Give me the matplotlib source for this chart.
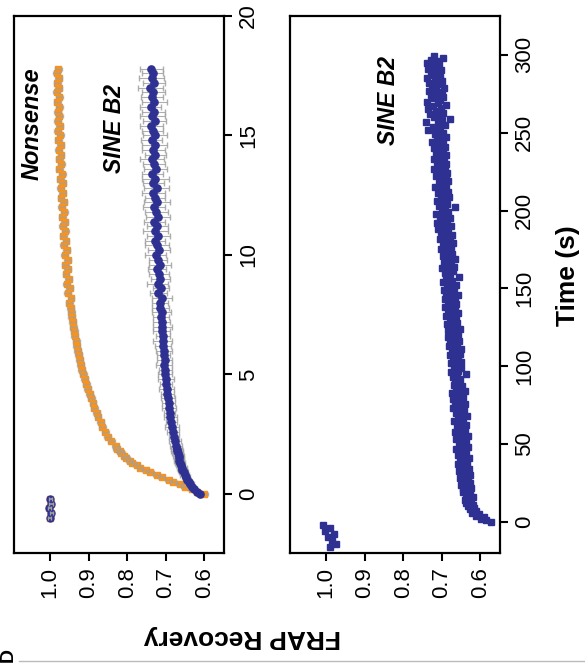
import matplotlib
matplotlib.use("Agg")
import matplotlib.pyplot as plt
from matplotlib.lines import Line2D

plt.rcParams['font.family'] = ['Liberation Sans', 'DejaVu Sans']

# ---------------- data: short time course (0-18 s) ----------------
pre_time_short = [-1.0, -0.8, -0.6, -0.4, -0.2]
pre_nonsense = [1.000, 0.998, 1.002, 0.999, 1.001]
pre_sine_short = [1.001, 0.997, 1.003, 0.998, 1.000]

time_short = [0.0, 0.1, 0.2, 0.3, 0.4, 0.5, 0.6, 0.7, 0.8, 0.9,
              1.0, 1.1, 1.2, 1.3, 1.4, 1.5, 1.6, 1.7, 1.8, 1.9, 2.0,
              2.2, 2.4, 2.6, 2.8, 3.0, 3.2, 3.4, 3.6, 3.8, 4.0,
              4.2, 4.4, 4.6, 4.8, 5.0, 5.2, 5.4, 5.6, 5.8, 6.0,
              6.2, 6.4, 6.6, 6.8, 7.0, 7.2, 7.4, 7.6, 7.8,
              8.0, 8.2, 8.4, 8.6, 8.8, 9.0, 9.2, 9.4, 9.6, 9.8,
              10.0, 10.2, 10.4, 10.6, 10.8, 11.0, 11.2, 11.4, 11.6, 11.8,
              12.0, 12.2, 12.4, 12.6, 12.8, 13.0, 13.2, 13.4, 13.6, 13.8,
              14.0, 14.2, 14.4, 14.6, 14.8, 15.0, 15.2, 15.4, 15.6, 15.8,
              16.0, 16.2, 16.4, 16.6, 16.8, 17.0, 17.2, 17.4, 17.6, 17.8]

nonsense = [0.600, 0.619, 0.633, 0.651, 0.664, 0.681, 0.693, 0.710, 0.723, 0.740,
            0.752, 0.767, 0.776, 0.787, 0.794, 0.803, 0.808, 0.816, 0.820, 0.827, 0.830,
            0.841, 0.851, 0.857, 0.865, 0.869, 0.876, 0.879, 0.886, 0.889, 0.894,
            0.898, 0.903, 0.906, 0.911, 0.914, 0.918, 0.921, 0.923, 0.926, 0.929,
            0.931, 0.933, 0.936, 0.937, 0.940, 0.941, 0.944, 0.945, 0.947,
            0.951, 0.946, 0.955, 0.949, 0.957, 0.952, 0.959, 0.954, 0.961, 0.955,
            0.962, 0.957, 0.965, 0.959, 0.966, 0.961, 0.968, 0.962, 0.969, 0.964,
            0.970, 0.965, 0.972, 0.967, 0.973, 0.968, 0.974, 0.969, 0.976, 0.971,
            0.977, 0.972, 0.978, 0.973, 0.979, 0.974, 0.980, 0.975, 0.981, 0.976,
            0.981, 0.977, 0.982, 0.977, 0.983, 0.978, 0.982, 0.978, 0.983, 0.979]
nonsense_err = 0.009

sine_short = [0.612, 0.619, 0.626, 0.631, 0.636, 0.640, 0.644, 0.648, 0.651, 0.654,
              0.657, 0.659, 0.661, 0.663, 0.665, 0.666, 0.667, 0.669, 0.671, 0.672, 0.673,
              0.676, 0.678, 0.681, 0.684, 0.686, 0.688, 0.690, 0.692, 0.693, 0.695,
              0.696, 0.698, 0.699, 0.700, 0.702, 0.701, 0.704, 0.703, 0.706, 0.705,
              0.707, 0.708, 0.707, 0.710, 0.709, 0.711, 0.712, 0.711, 0.714,
              0.716, 0.711, 0.719, 0.713, 0.721, 0.714, 0.717, 0.723, 0.715, 0.720,
              0.726, 0.718, 0.724, 0.728, 0.719, 0.727, 0.722, 0.730, 0.721, 0.725,
              0.731, 0.723, 0.728, 0.733, 0.724, 0.732, 0.727, 0.735, 0.726, 0.730,
              0.736, 0.727, 0.733, 0.729, 0.737, 0.728, 0.734, 0.738, 0.729, 0.735,
              0.731, 0.739, 0.730, 0.736, 0.733, 0.740, 0.731, 0.737, 0.734, 0.738]
sine_short_err = [0.005, 0.006, 0.007, 0.008, 0.009, 0.009, 0.010, 0.011, 0.012, 0.011,
                  0.012, 0.013, 0.012, 0.014, 0.013, 0.014, 0.015, 0.014, 0.016, 0.015, 0.016,
                  0.015, 0.013, 0.016, 0.018, 0.014, 0.017, 0.015, 0.019, 0.016, 0.018,
                  0.017, 0.020, 0.016, 0.021, 0.018, 0.017, 0.021, 0.019, 0.017, 0.020,
                  0.020, 0.024, 0.019, 0.022, 0.025, 0.021, 0.020, 0.024, 0.023,
                  0.021, 0.026, 0.023, 0.021, 0.027, 0.024, 0.026, 0.023, 0.029, 0.024,
                  0.027, 0.028, 0.031, 0.027, 0.030, 0.033, 0.028, 0.027, 0.031, 0.030,
                  0.028, 0.033, 0.027, 0.030, 0.032, 0.028, 0.034, 0.027, 0.030, 0.029,
                  0.032, 0.027, 0.030, 0.033, 0.028, 0.032, 0.027, 0.030, 0.029, 0.033,
                  0.030, 0.027, 0.032, 0.029, 0.030, 0.033, 0.028, 0.032, 0.027, 0.030]

# ---------------- data: long time course (0-300 s) ----------------
pre_time_long = [-16, -14, -12, -10, -8, -6, -4, -2]
pre_sine_long = [0.990, 0.975, 0.985, 0.995, 0.980, 1.003, 0.990, 1.008]

time_long = [
    0, 1, 2, 3, 4, 5, 6, 7, 8, 9, 10, 11, 12, 13, 14, 15, 16, 17, 18, 19,
    20, 21, 22, 23, 24, 25, 26, 27, 28, 29, 30, 31, 32, 33, 34, 35, 36, 37, 38, 39,
    40, 41, 42, 43, 44, 45, 46, 47, 48, 49, 50, 51, 52, 53, 54, 55, 56, 57, 58, 59,
    60, 61, 62, 63, 64, 65, 66, 67, 68, 69, 70, 71, 72, 73, 74, 75, 76, 77, 78, 79,
    80, 81, 82, 83, 84, 85, 86, 87, 88, 89, 90, 91, 92, 93, 94, 95, 96, 97, 98, 99,
    100, 101, 102, 103, 104, 105, 106, 107, 108, 109, 110, 111, 112, 113, 114, 115, 116, 117, 118, 119,
    120, 121, 122, 123, 124, 125, 126, 127, 128, 129, 130, 131, 132, 133, 134, 135, 136, 137, 138, 139,
    140, 141, 142, 143, 144, 145, 146, 147, 148, 149, 150, 151, 152, 153, 154, 155, 156, 157, 158, 159,
    160, 161, 162, 163, 164, 165, 166, 167, 168, 169, 170, 171, 172, 173, 174, 175, 176, 177, 178, 179,
    180, 181, 182, 183, 184, 185, 186, 187, 188, 189, 190, 191, 192, 193, 194, 195, 196, 197, 198, 199,
    200, 201, 202, 203, 204, 205, 206, 207, 208, 209, 210, 211, 212, 213, 214, 215, 216, 217, 218, 219,
    220, 221, 222, 223, 224, 225, 226, 227, 228, 229, 230, 231, 232, 233, 234, 235, 236, 237, 238, 239,
    240, 241, 242, 243, 244, 245, 246, 247, 248, 249, 250, 251, 252, 253, 254, 255, 256, 257, 258, 259,
    260, 261, 262, 263, 264, 265, 266, 267, 268, 269, 270, 271, 272, 273, 274, 275, 276, 277, 278, 279,
    280, 281, 282, 283, 284, 285, 286, 287, 288, 289, 290, 291, 292, 293, 294, 295, 296, 297, 298, 299]
sine_long = [
    0.572, 0.585, 0.598, 0.590, 0.612, 0.603, 0.621, 0.610, 0.628, 0.617,
    0.632, 0.620, 0.637, 0.625, 0.641, 0.629, 0.619, 0.638, 0.627, 0.644,
    0.631, 0.646, 0.624, 0.639, 0.650, 0.628, 0.642, 0.633, 0.652, 0.637,
    0.626, 0.645, 0.636, 0.655, 0.630, 0.648, 0.640, 0.657, 0.634, 0.646,
    0.652, 0.629, 0.644, 0.659, 0.637, 0.650, 0.641, 0.662, 0.631, 0.648,
    0.655, 0.638, 0.651, 0.664, 0.642, 0.633, 0.657, 0.646, 0.666, 0.640,
    0.652, 0.661, 0.637, 0.656, 0.645, 0.668, 0.648, 0.659, 0.635, 0.654,
    0.663, 0.643, 0.657, 0.670, 0.646, 0.660, 0.639, 0.666, 0.651, 0.672,
    0.644, 0.661, 0.653, 0.674, 0.641, 0.664, 0.657, 0.648, 0.669, 0.655,
    0.662, 0.667, 0.652, 0.671, 0.660, 0.636, 0.675, 0.657, 0.664, 0.650,
    0.668, 0.655, 0.677, 0.649, 0.663, 0.672, 0.658, 0.680, 0.653, 0.666,
    0.674, 0.651, 0.669, 0.682, 0.660, 0.671, 0.656, 0.678, 0.664, 0.685,
    0.658, 0.673, 0.666, 0.683, 0.654, 0.676, 0.669, 0.687, 0.661, 0.674,
    0.680, 0.663, 0.689, 0.671, 0.658, 0.678, 0.685, 0.666, 0.691, 0.673,
    0.662, 0.684, 0.676, 0.693, 0.667, 0.681, 0.659, 0.688, 0.674, 0.695,
    0.669, 0.686, 0.664, 0.680, 0.697, 0.673, 0.690, 0.655, 0.684, 0.678,
    0.692, 0.671, 0.687, 0.699, 0.668, 0.682, 0.694, 0.675, 0.689, 0.666,
    0.684, 0.698, 0.673, 0.691, 0.679, 0.703, 0.676, 0.694, 0.686, 0.670,
    0.697, 0.680, 0.706, 0.688, 0.674, 0.693, 0.701, 0.683, 0.709, 0.690,
    0.677, 0.698, 0.712, 0.686, 0.694, 0.680, 0.704, 0.690, 0.716, 0.683,
    0.700, 0.693, 0.665, 0.708, 0.686, 0.697, 0.713, 0.689, 0.702, 0.681,
    0.695, 0.710, 0.684, 0.702, 0.691, 0.717, 0.688, 0.699, 0.707, 0.683,
    0.704, 0.690, 0.716, 0.697, 0.686, 0.711, 0.700, 0.720, 0.692, 0.706,
    0.688, 0.713, 0.701, 0.719, 0.694, 0.708, 0.690, 0.716, 0.703, 0.697,
    0.721, 0.692, 0.710, 0.704, 0.725, 0.696, 0.713, 0.689, 0.707, 0.718,
    0.698, 0.715, 0.737, 0.704, 0.722, 0.693, 0.711, 0.741, 0.700, 0.679,
    0.719, 0.708, 0.730, 0.696, 0.714, 0.735, 0.703, 0.724, 0.690, 0.711,
    0.738, 0.706, 0.721, 0.697, 0.729, 0.713, 0.700, 0.733, 0.716, 0.694,
    0.725, 0.710, 0.733, 0.699, 0.718, 0.738, 0.705, 0.722, 0.712, 0.729,
    0.701, 0.735, 0.716, 0.724, 0.707, 0.739, 0.713, 0.727, 0.698, 0.720]

frap_ticks = [1.0, 0.9, 0.8, 0.7, 0.6]
short_ticks = [0, 5, 10, 15, 20]
long_ticks = [0, 50, 100, 150, 200, 250, 300]

ORANGE = '#F7931E'
BLUE = '#2E3192'
GREY = '#A0A0A0'

W, H = 585, 667
fig = plt.figure(figsize=(W / 100, H / 100), dpi=100)

def rect(l, t, r, b):
    return [l / W, 1 - b / H, (r - l) / W, (b - t) / H]

ax1 = fig.add_axes(rect(14, 16, 224, 553))
ax2 = fig.add_axes(rect(290, 16, 500, 553))

for ax in (ax1, ax2):
    for s in ax.spines.values():
        s.set_linewidth(1.6)
    ax.yaxis.tick_right()
    ax.tick_params(axis='both', direction='out', length=6, width=1.5,
                   labelsize=16, pad=4)
    ax.set_xticks(frap_ticks)
    ax.set_xticklabels([f"{v:.1f}" for v in frap_ticks], rotation=90)
    ax.set_xlim(1.094, 0.549)

# top panel (short time course)
ax1.plot(pre_nonsense, pre_time_short, 's', color=ORANGE, ms=4.6, mec=ORANGE, zorder=2)
ax1.plot(nonsense, time_short, 's', color=ORANGE, ms=4.6, mec=ORANGE, zorder=2)
ax1.errorbar(nonsense, time_short, xerr=nonsense_err, fmt='none', ecolor=GREY,
             elinewidth=0.9, capsize=1.5, alpha=0.75, zorder=3)
ax1.errorbar(sine_short, time_short, xerr=sine_short_err, fmt='none', ecolor=GREY,
             elinewidth=0.8, capsize=2, alpha=0.85, zorder=2)
ax1.plot(sine_short, time_short, 'o', color=BLUE, ms=5.2, mec=BLUE, zorder=3)
ax1.plot(pre_sine_short, pre_time_short, 'o', color=BLUE, ms=5.0, zorder=3)
ax1.errorbar(pre_sine_short, pre_time_short, xerr=0.004, fmt='none', ecolor=GREY,
             elinewidth=1.2, capsize=1.5, zorder=4)
ax1.set_ylim(-2.47, 20)
ax1.set_yticks(short_ticks)
ax1.set_yticklabels([str(v) for v in short_ticks], rotation=90, va='center')
ax1.text(1.047, 15.5, 'Nonsense', rotation=90, ha='center', va='center',
         fontsize=17, fontweight='bold', fontstyle='italic')
ax1.text(0.832, 15.3, 'SINE B2', rotation=90, ha='center', va='center',
         fontsize=16.5, fontweight='bold', fontstyle='italic')

# bottom panel (long time course)
ax2.plot(pre_sine_long, pre_time_long, 's', color=BLUE, ms=4.2, mec=BLUE)
ax2.plot(sine_long, time_long, 's', color=BLUE, ms=4.2, mec=BLUE)
ax2.set_ylim(-20, 325)
ax2.set_yticks(long_ticks)
ax2.set_yticklabels([str(v) for v in long_ticks], rotation=90, va='center')
ax2.text(0.838, 271, 'SINE B2', rotation=90, ha='center', va='center',
         fontsize=16.5, fontweight='bold', fontstyle='italic')

fig.text(242 / W, 1 - 637 / H, 'FRAP Recovery', rotation=180, ha='center',
         va='center', fontsize=19, fontweight='bold')
fig.text(568 / W, 1 - 276 / H, 'Time (s)', rotation=90, ha='center',
         va='center', fontsize=19, fontweight='bold')

fig.add_artist(Line2D([19 / W, 1.0], [1 - 661 / H, 1 - 661 / H], color='#BBBBBB', lw=1))
fig.text(8 / W, 1 - 648 / H, 'D', rotation=90, ha='center', va='top',
         fontsize=14, fontweight='bold')

fig.savefig('out.png', dpi=100)
